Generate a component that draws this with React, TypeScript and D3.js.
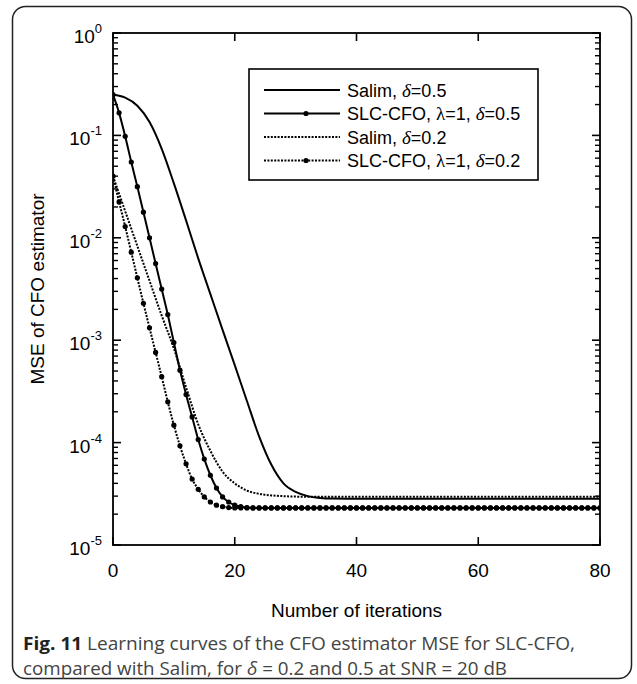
import React from 'react';
import * as d3 from 'd3';

// iterations 0..80, markers drawn at each one for the SLC-CFO curves
const iterations = d3.range(0, 81);

const slc05 = [
  2.5e-1, 1.66e-1, 9.8e-2, 5.5e-2, 3.16e-2, 1.78e-2, 1.0e-2, 5.6e-3, 3.16e-3, 1.78e-3,
  9.5e-4, 5.1e-4, 2.95e-4, 1.78e-4, 1.07e-4, 6.9e-5, 4.8e-5, 3.6e-5, 2.95e-5, 2.63e-5,
  2.45e-5, 2.37e-5, 2.32e-5, 2.3e-5, 2.3e-5, 2.3e-5, 2.3e-5, 2.3e-5, 2.3e-5, 2.3e-5,
  2.3e-5, 2.3e-5, 2.3e-5, 2.3e-5, 2.3e-5, 2.3e-5, 2.3e-5, 2.3e-5, 2.3e-5, 2.3e-5,
  2.3e-5, 2.3e-5, 2.3e-5, 2.3e-5, 2.3e-5, 2.3e-5, 2.3e-5, 2.3e-5, 2.3e-5, 2.3e-5,
  2.3e-5, 2.3e-5, 2.3e-5, 2.3e-5, 2.3e-5, 2.3e-5, 2.3e-5, 2.3e-5, 2.3e-5, 2.3e-5,
  2.3e-5, 2.3e-5, 2.3e-5, 2.3e-5, 2.3e-5, 2.3e-5, 2.3e-5, 2.3e-5, 2.3e-5, 2.3e-5,
  2.3e-5, 2.3e-5, 2.3e-5, 2.3e-5, 2.3e-5, 2.3e-5, 2.3e-5, 2.3e-5, 2.3e-5, 2.3e-5,
  2.3e-5,
];

const slc02 = [
  4.0e-2, 2.24e-2, 1.29e-2, 7.24e-3, 4.07e-3, 2.29e-3, 1.32e-3, 7.6e-4, 4.4e-4, 2.5e-4,
  1.48e-4, 9.3e-5, 6.2e-5, 4.4e-5, 3.5e-5, 2.95e-5, 2.63e-5, 2.45e-5, 2.37e-5, 2.32e-5,
  2.3e-5, 2.3e-5, 2.3e-5, 2.3e-5, 2.3e-5, 2.3e-5, 2.3e-5, 2.3e-5, 2.3e-5, 2.3e-5,
  2.3e-5, 2.3e-5, 2.3e-5, 2.3e-5, 2.3e-5, 2.3e-5, 2.3e-5, 2.3e-5, 2.3e-5, 2.3e-5,
  2.3e-5, 2.3e-5, 2.3e-5, 2.3e-5, 2.3e-5, 2.3e-5, 2.3e-5, 2.3e-5, 2.3e-5, 2.3e-5,
  2.3e-5, 2.3e-5, 2.3e-5, 2.3e-5, 2.3e-5, 2.3e-5, 2.3e-5, 2.3e-5, 2.3e-5, 2.3e-5,
  2.3e-5, 2.3e-5, 2.3e-5, 2.3e-5, 2.3e-5, 2.3e-5, 2.3e-5, 2.3e-5, 2.3e-5, 2.3e-5,
  2.3e-5, 2.3e-5, 2.3e-5, 2.3e-5, 2.3e-5, 2.3e-5, 2.3e-5, 2.3e-5, 2.3e-5, 2.3e-5,
  2.3e-5,
];

// Salim curves have no markers, read every second iteration
const salimIter = [0, 2, 4, 6, 8, 10, 12, 14, 16, 18, 20, 22, 24, 26, 28, 30, 32, 34, 36, 40, 50, 60, 70, 80];
const salim05 = [
  2.5e-1, 2.34e-1, 1.95e-1, 1.35e-1, 7.4e-2, 3.4e-2, 1.48e-2, 6.3e-3, 2.82e-3, 1.26e-3,
  5.7e-4, 2.55e-4, 1.15e-4, 6.1e-5, 4.0e-5, 3.3e-5, 3.0e-5, 2.88e-5, 2.84e-5, 2.83e-5,
  2.83e-5, 2.83e-5, 2.83e-5, 2.83e-5,
];
const salim02 = [
  4.0e-2, 1.82e-2, 8.3e-3, 3.8e-3, 1.74e-3, 8.3e-4, 3.47e-4, 1.51e-4, 8.3e-5, 5.2e-5,
  4.0e-5, 3.4e-5, 3.16e-5, 3.05e-5, 3.0e-5, 2.97e-5, 2.96e-5, 2.96e-5, 2.96e-5, 2.96e-5,
  2.96e-5, 2.96e-5, 2.96e-5, 2.96e-5,
];

const xTicks = [0, 20, 40, 60, 80];
const yExponents = [0, -1, -2, -3, -4, -5];

const legendRows = [
  { name: 'Salim', lambda: false, delta: '0.5', dotted: false, marker: false },
  { name: 'SLC-CFO', lambda: true, delta: '0.5', dotted: false, marker: true },
  { name: 'Salim', lambda: false, delta: '0.2', dotted: true, marker: false },
  { name: 'SLC-CFO', lambda: true, delta: '0.2', dotted: true, marker: true },
];

const W = 637;
const H = 684;
const plot = { left: 113, right: 600, top: 33, bottom: 545 };
const DOT = '2,1.4';
const sans = 'Arial, "Liberation Sans", Helvetica, sans-serif';
const serif = '"Times New Roman", "Liberation Serif", serif';
const capFont = '"Open Sans", sans-serif';

export default function App() {
  const x = d3.scaleLinear().domain([0, 80]).range([plot.left, plot.right]);
  const y = d3.scaleLog().domain([1e-5, 1]).range([plot.bottom, plot.top]);

  const line = d3
    .line<[number, number]>()
    .x((d) => x(d[0]))
    .y((d) => y(d[1]))
    .curve(d3.curveMonotoneX);

  const zipIt = (xs: number[], ys: number[]) => xs.map((v, i) => [v, ys[i]] as [number, number]);

  const series = [
    { pts: zipIt(salimIter, salim05), dotted: false, marker: false },
    { pts: zipIt(salimIter, salim02), dotted: true, marker: false },
    { pts: zipIt(iterations, slc05), dotted: false, marker: true },
    { pts: zipIt(iterations, slc02), dotted: true, marker: true },
  ];

  const minorTicks: number[] = [];
  for (let e = -5; e < 0; e++) {
    for (let m = 2; m <= 9; m++) minorTicks.push(m * Math.pow(10, e));
  }

  const lg = { x: 249, y: 69, w: 289, h: 111 };

  return (
    <svg
      width={W}
      height={H}
      style={{ position: 'absolute', left: 0, top: 0, background: '#fff' }}
      fontFamily={sans}
    >
      <rect x={12.5} y={6.5} width={619} height={672} rx={13} fill="#fff" stroke="#222" strokeWidth={1.5} />

      {/* curves */}
      <clipPath id="clip">
        <rect x={plot.left} y={plot.top} width={plot.right - plot.left} height={plot.bottom - plot.top} />
      </clipPath>
      <g clipPath="url(#clip)">
        {series.map((s, i) => (
          <g key={i}>
            <path
              d={line(s.pts) || ''}
              fill="none"
              stroke="#000"
              strokeWidth={2}
              strokeDasharray={s.dotted ? DOT : undefined}
            />
            {s.marker &&
              s.pts.map((p, j) => <circle key={j} cx={x(p[0])} cy={y(p[1])} r={2.6} fill="#000" />)}
          </g>
        ))}
      </g>

      {/* axes box */}
      <rect
        x={plot.left}
        y={plot.top}
        width={plot.right - plot.left}
        height={plot.bottom - plot.top}
        fill="none"
        stroke="#000"
        strokeWidth={1.8}
      />

      {/* x ticks */}
      {xTicks.map((t) => (
        <g key={'x' + t}>
          <line x1={x(t)} x2={x(t)} y1={plot.bottom} y2={plot.bottom - 8} stroke="#000" strokeWidth={1.6} />
          <line x1={x(t)} x2={x(t)} y1={plot.top} y2={plot.top + 8} stroke="#000" strokeWidth={1.6} />
          <text x={x(t)} y={plot.bottom + 32} textAnchor="middle" fontSize={19}>
            {t}
          </text>
        </g>
      ))}

      {/* y ticks */}
      {yExponents.map((e) => {
        const yy = y(Math.pow(10, e));
        return (
          <g key={'y' + e}>
            <line x1={plot.left} x2={plot.left + 8} y1={yy} y2={yy} stroke="#000" strokeWidth={1.6} />
            <line x1={plot.right} x2={plot.right - 8} y1={yy} y2={yy} stroke="#000" strokeWidth={1.6} />
            <text x={102} y={yy + 10} textAnchor="end" fontSize={19}>
              10
              <tspan fontSize={13} dy={-10}>
                {e === 0 ? '0' : '-' + Math.abs(e)}
              </tspan>
            </text>
          </g>
        );
      })}
      {minorTicks.map((v, i) => (
        <g key={'m' + i}>
          <line x1={plot.left} x2={plot.left + 5} y1={y(v)} y2={y(v)} stroke="#000" strokeWidth={1.4} />
          <line x1={plot.right} x2={plot.right - 5} y1={y(v)} y2={y(v)} stroke="#000" strokeWidth={1.4} />
        </g>
      ))}

      {/* axis labels */}
      <text x={(plot.left + plot.right) / 2} y={617} textAnchor="middle" fontSize={19}>
        Number of iterations
      </text>
      <text
        transform={`translate(44, ${(plot.top + plot.bottom) / 2}) rotate(-90)`}
        textAnchor="middle"
        fontSize={19}
      >
        MSE of CFO estimator
      </text>

      {/* legend */}
      <rect x={lg.x} y={lg.y} width={lg.w} height={lg.h} fill="#fff" stroke="#000" strokeWidth={1.6} />
      {legendRows.map((r, i) => {
        const yy = 90 + i * 23.5;
        return (
          <g key={'l' + i}>
            <line
              x1={264}
              x2={340}
              y1={yy}
              y2={yy}
              stroke="#000"
              strokeWidth={2}
              strokeDasharray={r.dotted ? DOT : undefined}
            />
            {r.marker && <circle cx={306} cy={yy} r={2.6} fill="#000" />}
            <text x={347} y={yy + 6.5} fontSize={18}>
              {r.name + ', '}
              {r.lambda && (
                <>
                  <tspan fontFamily={serif} fontSize={19}>λ</tspan>
                  {'=1, '}
                </>
              )}
              <tspan fontFamily={serif} fontStyle="italic" fontSize={19}>δ</tspan>
              {'=' + r.delta}
            </text>
          </g>
        );
      })}

      {/* caption */}
      <text
        x={23}
        y={650}
        fontSize={18}
        fontFamily={capFont}
        fill="#444"
        textLength={552}
        lengthAdjust="spacingAndGlyphs"
      >
        <tspan fontWeight="bold" fill="#222">Fig. 11</tspan>
        {' Learning curves of the CFO estimator MSE for SLC-CFO,'}
      </text>
      <text
        x={23}
        y={675}
        fontSize={18}
        fontFamily={capFont}
        fill="#444"
        textLength={484}
        lengthAdjust="spacingAndGlyphs"
      >
        {'compared with Salim, for '}
        <tspan fontStyle="italic">δ</tspan>
        {' = 0.2 and 0.5 at SNR = 20 dB'}
      </text>
    </svg>
  );
}
